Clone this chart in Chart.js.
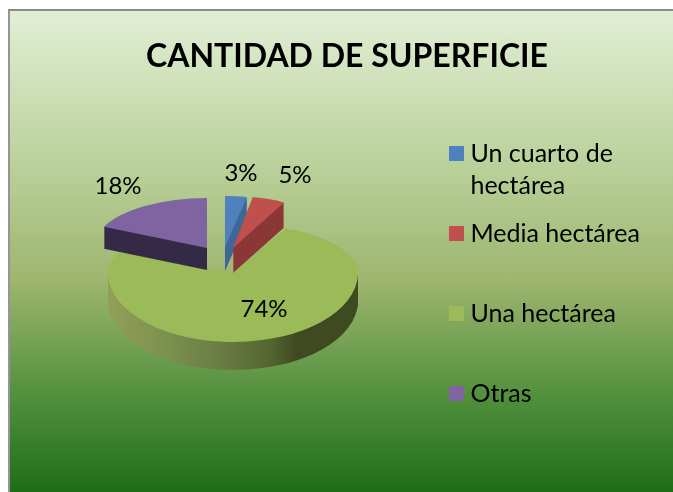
<!DOCTYPE html>
<html><head><meta charset="utf-8">
<style>
html,body{margin:0;padding:0;width:673px;height:492px;overflow:hidden;background:#fff}
#frame{position:absolute;left:8px;top:9px;width:665px;height:483px;border-left:2px solid #959595;border-top:2px solid #8a8a8a;overflow:hidden;
background:linear-gradient(180deg,#e2eed5 0%,#bdd4a0 29%,#9db56e 56%,#4e8e3b 81%,#1e6c17 100%)}
canvas{display:block}
</style>
<script src="https://cdn.jsdelivr.net/npm/chart.js@4"></script>
</head><body>
<div id="frame"><div style="width:674px;height:481px;position:relative"><canvas id="c"></canvas></div></div>
<script>
const titleText = "CANTIDAD DE SUPERFICIE";
const categories = [["Un cuarto de","hectárea"],["Media hectárea",""],["Una hectárea",""],["Otras",""]];
const values = [3,5,74,18];
const colors = ["#4f81bd","#c0504d","#9bbb59","#8064a2"];
const sideColors = ["#3e6897","#8a3735",null,"#352a47"];
const FONT = "Lato";

// 3D projection of each slice, in canvas pixels
const projection = [
  {x:215,y:236,rx:117,up:51,down:51,depth:24},
  {x:223,y:237,rx:106,up:52,down:52,depth:25},
  {x:223,y:262,rx:125,up:49,down:69,depth:28},
  {x:197,y:237,rx:114,up:50,down:50,depth:22}
];
const labelPos = [[231,162],[285,164],[254,298],[108,175]];
const drawOrder = [2,3,0,1];

function swatch(color){
  const s=document.createElement('canvas');s.width=15;s.height=15;
  const g=s.getContext('2d');g.fillStyle=color;g.fillRect(0,0,15,15);return s;
}

const pie3d = {
  id:'pie3d',
  beforeDatasetsDraw(chart){
    const ctx=chart.ctx, meta=chart.getDatasetMeta(0);
    const place=(el,p,ry,dy,rot)=>{
      const R=el.outerRadius;
      ctx.translate(p.x,p.y+dy);
      ctx.scale(p.rx/R,ry/R);
      if(rot)ctx.rotate(rot);
      ctx.translate(-el.x,-el.y);
    };
    const paint=(el,fill)=>{
      const o=el.options;
      el.options=Object.assign({},o,{backgroundColor:fill,borderWidth:0});
      el.draw(ctx);
      el.options=o;
    };
    for(const i of drawOrder){
      const el=meta.data[i], p=projection[i], R=el.outerRadius;
      if(i===2){
        const g=ctx.createLinearGradient(el.x-R,0,el.x+R,0);
        g.addColorStop(0,'#929f58');g.addColorStop(.2,'#7f9350');g.addColorStop(.45,'#6a7d44');
        g.addColorStop(.65,'#54652f');g.addColorStop(.75,'#3f4a22');g.addColorStop(1,'#3f4a20');
        ctx.save();
        ctx.beginPath();ctx.rect(0,p.y,chart.width,chart.height);ctx.clip();
        for(let d=p.depth;d>=1;d--){ctx.save();place(el,p,p.down,d);paint(el,g);ctx.restore();}
        ctx.restore();
        ctx.save();ctx.beginPath();ctx.rect(0,0,chart.width,p.y);ctx.clip();
        ctx.save();place(el,p,p.up,0);paint(el,colors[i]);ctx.restore();
        ctx.save();place(el,p,p.up,0,-4*Math.PI/180);paint(el,colors[i]);ctx.restore();
        ctx.restore();
        ctx.save();ctx.beginPath();ctx.rect(0,p.y,chart.width,chart.height);ctx.clip();
        place(el,p,p.down,0);paint(el,colors[i]);ctx.restore();
      }else{
        for(let d=p.depth;d>=1;d--){ctx.save();place(el,p,p.up,d);paint(el,sideColors[i]);ctx.restore();}
        ctx.save();place(el,p,p.up,0);paint(el,colors[i]);ctx.restore();
      }
    }
    return false;
  },
  afterDraw(chart){
    const ctx=chart.ctx;
    ctx.save();
    ctx.font='24px '+FONT;ctx.fillStyle='#000';ctx.textAlign='center';ctx.textBaseline='middle';
    values.forEach((v,i)=>ctx.fillText(v+'%',labelPos[i][0],labelPos[i][1]));
    ctx.restore();
  }
};

new Chart(document.getElementById('c'),{
  type:'pie',
  data:{labels:categories,datasets:[{data:values,backgroundColor:colors,borderWidth:0}]},
  options:{
    responsive:true,maintainAspectRatio:false,animation:false,
    layout:{padding:{left:34,right:34}},
    plugins:{
      tooltip:{enabled:false},
      title:{display:true,text:titleText,color:'#000',
        font:{family:FONT,size:32,weight:'bold',lineHeight:1.2},
        padding:{top:26,bottom:50}},
      legend:{position:'right',align:'start',fullSize:false,
        labels:{
          color:'#000',font:{family:FONT,size:25,lineHeight:1.28},
          usePointStyle:true,pointStyleWidth:3,padding:16,
          generateLabels(chart){
            return categories.map((t,i)=>({text:t,fillStyle:colors[i],strokeStyle:colors[i],lineWidth:0,
              pointStyle:swatch(colors[i]),hidden:false,index:i,fontColor:'#000'}));
          }
        }}
    }
  },
  plugins:[pie3d]
});
</script>
</body></html>
